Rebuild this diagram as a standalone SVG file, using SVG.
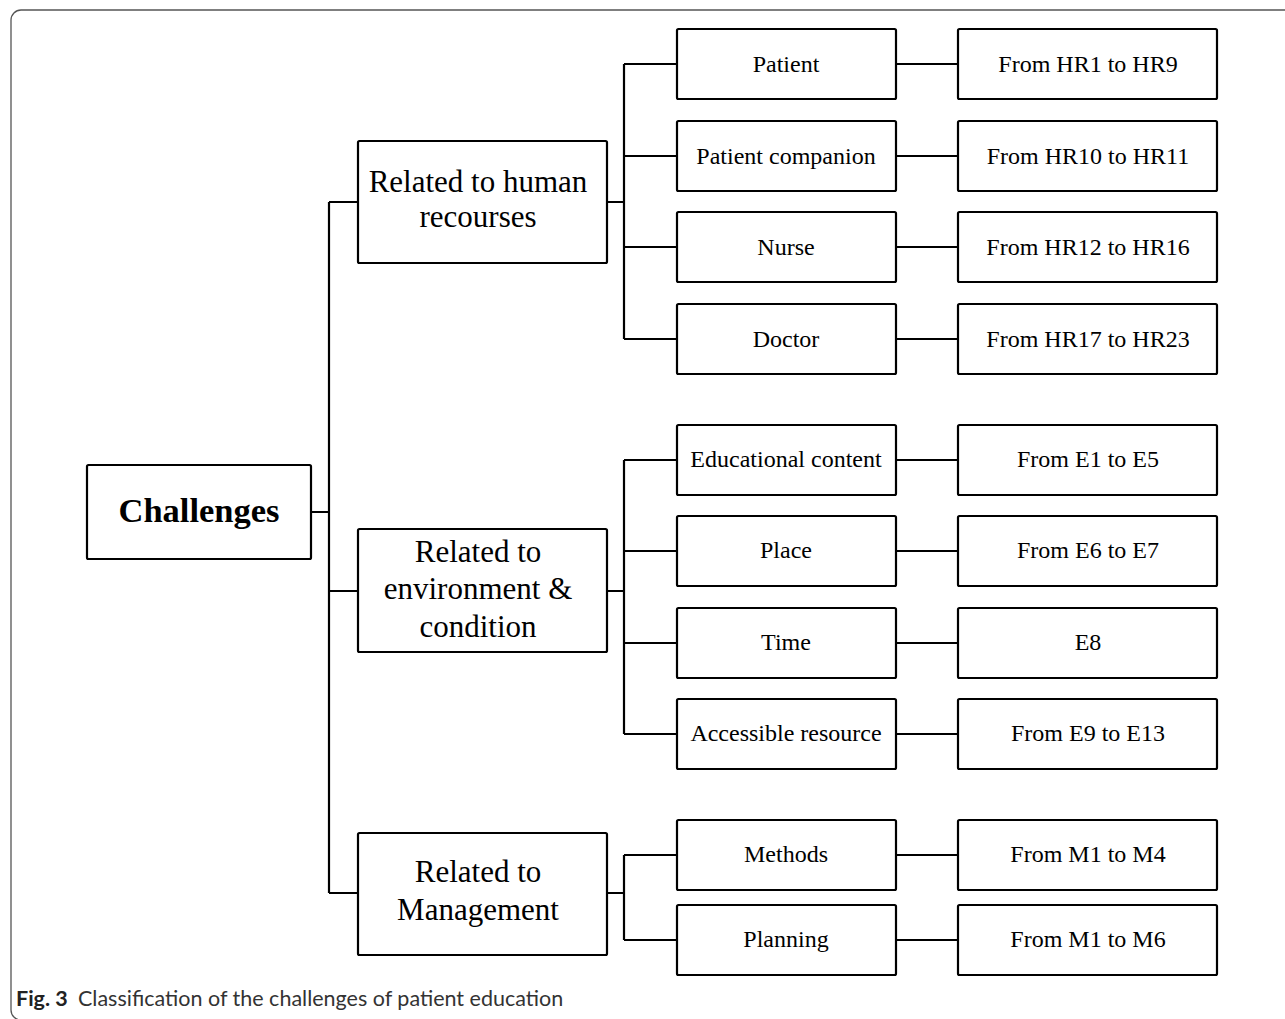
<svg xmlns="http://www.w3.org/2000/svg" width="1285" height="1019" viewBox="0 0 1285 1019">
  <style>
    .box { fill: #fff; stroke: #000; stroke-width: 2.2; }
    .wire { fill: none; stroke: #000; stroke-width: 2.2; }
    .t { font-family: "Liberation Serif", "Times New Roman", serif; fill: #000; text-anchor: middle; }
    .l2 { font-size: 31px; }
    .l3 { font-size: 24px; }
    .root { font-size: 34.5px; font-weight: bold; }
    .cap { font-family: Lato, "Liberation Sans", Arial, sans-serif; font-size: 21.5px; }
  </style>
  <rect width="1285" height="1019" fill="#fff"/>
  <!-- figure frame -->
  <rect x="11" y="10" width="1290" height="1010" rx="10" fill="none" stroke="#555" stroke-width="1.3"/>

  <!-- connectors -->
  <g id="connectors" class="wire">
    <!-- root to categories -->
    <path d="M311,512 H329 M329,202 V893 M329,202 H358 M329,591 H358 M329,893 H358"/>
    <!-- human resources branch -->
    <path d="M607,202 H624 M624,64 V339 M624,64 H677 M624,156 H677 M624,247 H677 M624,339 H677"/>
    <!-- environment branch -->
    <path d="M607,591 H624 M624,460 V734 M624,460 H677 M624,551 H677 M624,643 H677 M624,734 H677"/>
    <!-- management branch -->
    <path d="M607,893 H624 M624,855 V940 M624,855 H677 M624,940 H677"/>
    <!-- subcategory to code range -->
    <path d="M896,64 H958 M896,156 H958 M896,247 H958 M896,339 H958 M896,460 H958 M896,551 H958 M896,643 H958 M896,734 H958 M896,855 H958 M896,940 H958"/>
  </g>

  <!-- root -->
  <g id="challenges">
    <rect class="box" x="87" y="465" width="224" height="94" rx="1.5"/>
    <text class="t root" x="199" y="522">Challenges</text>
  </g>

  <!-- categories -->
  <g id="human-resources">
    <rect class="box" x="358" y="141" width="249" height="122" rx="1.5"/>
    <text class="t l2" x="478" y="192">Related to human</text>
    <text class="t l2" x="478" y="227">recourses</text>
  </g>
  <g id="environment">
    <rect class="box" x="358" y="529" width="249" height="123" rx="1.5"/>
    <text class="t l2" x="478" y="562">Related to</text>
    <text class="t l2" x="478" y="599">environment &amp;</text>
    <text class="t l2" x="478" y="637">condition</text>
  </g>
  <g id="management">
    <rect class="box" x="358" y="833" width="249" height="122" rx="1.5"/>
    <text class="t l2" x="478" y="882">Related to</text>
    <text class="t l2" x="478" y="920">Management</text>
  </g>

  <!-- subcategories -->
  <g id="patient">
    <rect class="box" x="677" y="29" width="219" height="70" rx="1.5"/>
    <text class="t l3" x="786" y="72">Patient</text>
  </g>
  <g id="patient-companion">
    <rect class="box" x="677" y="121" width="219" height="70" rx="1.5"/>
    <text class="t l3" x="786" y="164">Patient companion</text>
  </g>
  <g id="nurse">
    <rect class="box" x="677" y="212" width="219" height="70" rx="1.5"/>
    <text class="t l3" x="786" y="255">Nurse</text>
  </g>
  <g id="doctor">
    <rect class="box" x="677" y="304" width="219" height="70" rx="1.5"/>
    <text class="t l3" x="786" y="347">Doctor</text>
  </g>
  <g id="educational-content">
    <rect class="box" x="677" y="425" width="219" height="70" rx="1.5"/>
    <text class="t l3" x="786" y="467">Educational content</text>
  </g>
  <g id="place">
    <rect class="box" x="677" y="516" width="219" height="70" rx="1.5"/>
    <text class="t l3" x="786" y="558">Place</text>
  </g>
  <g id="time">
    <rect class="box" x="677" y="608" width="219" height="70" rx="1.5"/>
    <text class="t l3" x="786" y="650">Time</text>
  </g>
  <g id="accessible-resource">
    <rect class="box" x="677" y="699" width="219" height="70" rx="1.5"/>
    <text class="t l3" x="786" y="741">Accessible resource</text>
  </g>
  <g id="methods">
    <rect class="box" x="677" y="820" width="219" height="70" rx="1.5"/>
    <text class="t l3" x="786" y="862">Methods</text>
  </g>
  <g id="planning">
    <rect class="box" x="677" y="905" width="219" height="70" rx="1.5"/>
    <text class="t l3" x="786" y="947">Planning</text>
  </g>

  <!-- code ranges -->
  <g id="hr1-hr9">
    <rect class="box" x="958" y="29" width="259" height="70" rx="1.5"/>
    <text class="t l3" x="1088" y="72">From HR1 to HR9</text>
  </g>
  <g id="hr10-hr11">
    <rect class="box" x="958" y="121" width="259" height="70" rx="1.5"/>
    <text class="t l3" x="1088" y="164">From HR10 to HR11</text>
  </g>
  <g id="hr12-hr16">
    <rect class="box" x="958" y="212" width="259" height="70" rx="1.5"/>
    <text class="t l3" x="1088" y="255">From HR12 to HR16</text>
  </g>
  <g id="hr17-hr23">
    <rect class="box" x="958" y="304" width="259" height="70" rx="1.5"/>
    <text class="t l3" x="1088" y="347">From HR17 to HR23</text>
  </g>
  <g id="e1-e5">
    <rect class="box" x="958" y="425" width="259" height="70" rx="1.5"/>
    <text class="t l3" x="1088" y="467">From E1 to E5</text>
  </g>
  <g id="e6-e7">
    <rect class="box" x="958" y="516" width="259" height="70" rx="1.5"/>
    <text class="t l3" x="1088" y="558">From E6 to E7</text>
  </g>
  <g id="e8">
    <rect class="box" x="958" y="608" width="259" height="70" rx="1.5"/>
    <text class="t l3" x="1088" y="650">E8</text>
  </g>
  <g id="e9-e13">
    <rect class="box" x="958" y="699" width="259" height="70" rx="1.5"/>
    <text class="t l3" x="1088" y="741">From E9 to E13</text>
  </g>
  <g id="m1-m4">
    <rect class="box" x="958" y="820" width="259" height="70" rx="1.5"/>
    <text class="t l3" x="1088" y="862">From M1 to M4</text>
  </g>
  <g id="m1-m6">
    <rect class="box" x="958" y="905" width="259" height="70" rx="1.5"/>
    <text class="t l3" x="1088" y="947">From M1 to M6</text>
  </g>

  <!-- caption -->
  <text class="cap" x="16" y="1006"><tspan font-weight="bold" fill="#222">Fig. 3</tspan><tspan x="78" fill="#333">Classification of the challenges of patient education</tspan></text>
</svg>
